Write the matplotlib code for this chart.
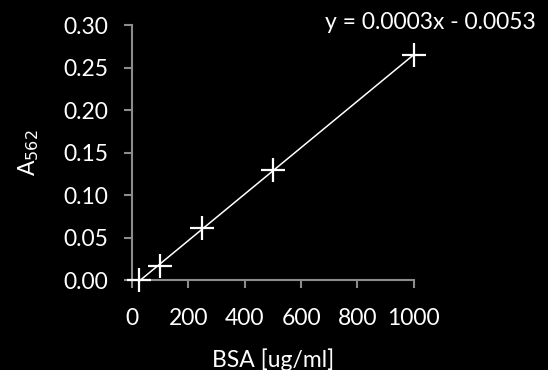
import numpy as np
import matplotlib.pyplot as plt

# BSA standard curve data
conc = [25, 100, 250, 500, 1000]
absorb = [0.0, 0.017, 0.061, 0.129, 0.265]
x_ticks = [0, 200, 400, 600, 800, 1000]
y_ticks = [0.00, 0.05, 0.10, 0.15, 0.20, 0.25, 0.30]

plt.rcParams['font.family'] = ['Lato', 'DejaVu Sans']

fig = plt.figure(figsize=(5.48, 3.70), dpi=100, facecolor='black')
ax = fig.add_axes([0.241, 0.243, 0.514, 0.689], facecolor='black')

# trendline
k, b = np.polyfit(conc, absorb, 1)
xs = np.array([conc[0], conc[-1]])
ax.plot(xs, k * xs + b, color='white', lw=1.1, zorder=2, clip_on=False)
ax.plot(conc, absorb, ls='none', marker='+', ms=17, mew=1.6, color='white',
        zorder=3, clip_on=False)

ax.set_xlim(0, 1000)
ax.set_ylim(0, 0.30)
ax.set_xticks(x_ticks)
ax.set_yticks(y_ticks)
ax.set_yticklabels(['%.2f' % v for v in y_ticks])

for s in ['top', 'right']:
    ax.spines[s].set_visible(False)
for s in ['left', 'bottom']:
    ax.spines[s].set_color('#8c8c8c')
    ax.spines[s].set_linewidth(1.5)
ax.tick_params(colors='#8c8c8c', width=1.5, length=6, labelcolor='white', labelsize=16.5)
ax.tick_params(axis='y', pad=11)
ax.tick_params(axis='x', pad=14)

ax.set_xlabel('BSA [ug/ml]', color='white', fontsize=16.5, labelpad=14)
ax.set_ylabel('A$_{562}$', color='white', fontsize=16.5, labelpad=16)

fig.text(0.978, 0.94, 'y = 0.0003x - 0.0053', color='white', fontsize=16.5,
         ha='right', va='center')

fig.savefig('out.png', dpi=100, facecolor='black')
